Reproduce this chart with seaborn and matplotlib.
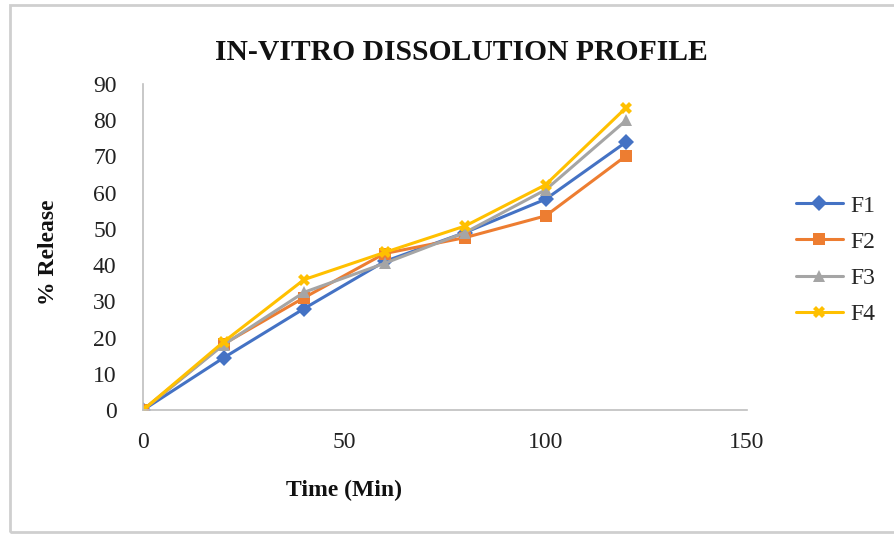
import matplotlib
matplotlib.use("Agg")
import matplotlib.pyplot as plt
import matplotlib.patches as mpatches
import seaborn as sns
import pandas as pd

# Dissolution data: cumulative % drug released at each sampling time
time_min = [0, 20, 40, 60, 80, 100, 120]
F1 = [0, 14.4, 28.0, 41.0, 49.0, 58.2, 74.0]
F2 = [0, 18.2, 31.0, 43.2, 47.6, 53.6, 70.2]
F3 = [0, 18.0, 32.5, 40.5, 49.0, 60.8, 80.0]
F4 = [0, 18.8, 36.0, 43.5, 50.8, 62.2, 83.5]
formulations = ["F1", "F2", "F3", "F4"]
x_ticks = [0, 50, 100, 150]
y_ticks = [0, 10, 20, 30, 40, 50, 60, 70, 80, 90]

series = {"F1": F1, "F2": F2, "F3": F3, "F4": F4}
df = pd.DataFrame(
    [(t, v, name) for name in formulations for t, v in zip(time_min, series[name])],
    columns=["Time", "Release", "Formulation"],
)

palette = {"F1": "#4472C4", "F2": "#ED7D31", "F3": "#A5A5A5", "F4": "#FFC000"}
markers = {"F1": "D", "F2": "s", "F3": "^", "F4": "X"}

sns.set_theme(style="white")
plt.rcParams["font.family"] = ["Liberation Serif", "DejaVu Serif"]

fig = plt.figure(figsize=(8.94, 5.4), dpi=100)
ax = fig.add_axes([143 / 894, 1 - 410 / 540, (747 - 143) / 894, (410 - 84) / 540])

sns.lineplot(
    data=df, x="Time", y="Release", hue="Formulation", style="Formulation",
    palette=palette, markers=markers, dashes=False, linewidth=2.2,
    markersize=8, markeredgewidth=0, ax=ax, legend=True,
)

ax.set_xlim(0, 150)
ax.set_ylim(0, 90)
ax.set_xticks(x_ticks)
ax.set_yticks(y_ticks)
ax.tick_params(axis="both", labelsize=17, labelcolor="#222222", length=5, width=1,
               direction="out", color="#BFBFBF")
ax.tick_params(axis="y", pad=14)
ax.tick_params(axis="x", pad=11)
for side in ("top", "right"):
    ax.spines[side].set_visible(False)
for side in ("left", "bottom"):
    ax.spines[side].set_color("#BFBFBF")
    ax.spines[side].set_linewidth(1.2)

ax.set_xlabel("Time (Min)", fontsize=17, fontweight="bold", color="#111111")
ax.set_ylabel("% Release", fontsize=17, fontweight="bold", color="#111111")
ax.xaxis.set_label_coords((344 - 143) / 604, -(480 - 410) / 326)
ax.yaxis.set_label_coords(-(143 - 59) / 604, (410 - 252) / 326)

handles, labels = ax.get_legend_handles_labels()
ax.legend(handles, labels, loc="center left", bbox_to_anchor=(1.065, 0.46),
          frameon=False, fontsize=17, handlelength=2.0, labelspacing=0.62,
          handletextpad=0.3, borderaxespad=0)

fig.text(461 / 894, 1 - 53 / 540, "IN-VITRO DISSOLUTION PROFILE", ha="center",
         va="center", fontsize=21.3, fontweight="bold", color="#111111")

# chart-area border
fig.patches.append(mpatches.Rectangle(
    (10 / 894, 1 - 532 / 540), 0.99, (532 - 5) / 540, transform=fig.transFigure,
    fill=False, edgecolor="#CFCFCF", linewidth=2, zorder=0))

fig.savefig("out.png", dpi=100)
